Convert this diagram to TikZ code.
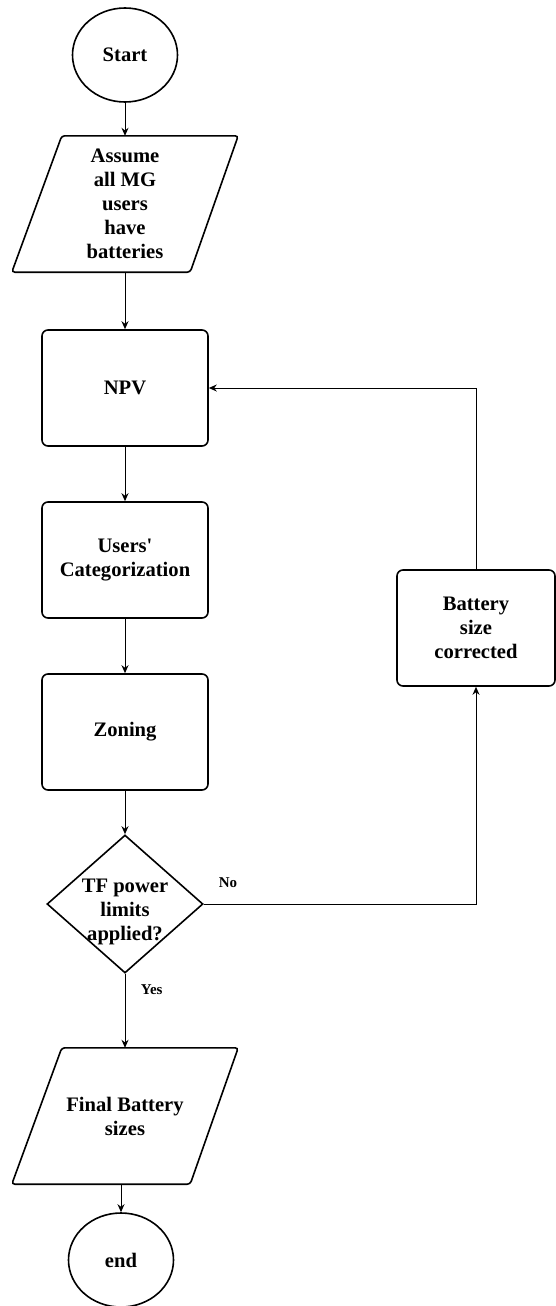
\documentclass[tikz,border=0pt]{standalone}
\usepackage{fontspec}
\setmainfont{Liberation Serif}
\usetikzlibrary{shapes.geometric, arrows.meta, calc}

\begin{document}
\begin{tikzpicture}[x=1pt, y=-1pt,
    font=\bfseries\fontsize{20.6}{24}\selectfont,
    every node/.append style={align=center},
    term/.style={draw, ellipse, line width=1.6pt, minimum width=105pt, minimum height=94pt, inner sep=0pt},
    proc/.style={draw, rounded corners=6pt, line width=1.6pt, minimum width=166pt, minimum height=116pt},
    io/.style={minimum width=226pt, minimum height=136pt, inner sep=0pt},
    ioline/.style={line width=1.6pt, rounded corners=3pt},
    flow/.style={line width=1pt, -{Stealth[length=8pt, width=7pt]}},
    tag/.style={font=\bfseries\fontsize{15}{17}\selectfont}]
    \useasboundingbox (0,0) rectangle (556,1306);
    \node[term] (start) at (125,55) {Start};
    \node[io] (assume) at (125,204) {Assume\\all MG\\users\\have\\batteries};
    \draw[ioline] ($(assume.north west)+(50,0)$) -- (assume.north east) -- ($(assume.south east)-(48,0)$) -- (assume.south west) -- cycle;
    \node[proc] (npv) at (125,388) {NPV};
    \node[proc] (cat) at (125,560) {Users\textquotesingle\\Categorization};
    \node[proc] (zone) at (125,732) {Zoning};
    \node[draw, diamond, line width=1.6pt, minimum width=156pt, minimum height=138pt, inner sep=0pt] (check) at (125,904) {};
    \node (checktext) at (125,912) {TF power\\limits\\applied?};
    \node[proc, minimum width=158pt] (fix) at (476,628) {Battery\\size\\corrected};
    \node[io] (final) at (125,1116) {Final Battery\\sizes};
    \draw[ioline] ($(final.north west)+(50,0)$) -- (final.north east) -- ($(final.south east)-(48,0)$) -- (final.south west) -- cycle;
    \node[term] (stop) at (121,1260) {end};
    \node[tag] (no) at (228,883) {No};

    \draw[flow] (start) -- (assume.north);
    \draw[flow] (assume.south) -- (npv);
    \draw[flow] (npv) -- (cat);
    \draw[flow] (cat) -- (zone);
    \draw[flow] (zone) -- (check);
    \draw[flow] (check) -- (final.north) node[tag, pos=0.21, anchor=west, xshift=12pt] {Yes};
    \draw[flow] (check.east) -| (fix);
    \draw[flow] (fix.north) |- (npv.east);
    \draw[flow] (final.south -| stop) -- (stop);
\end{tikzpicture}
\end{document}
